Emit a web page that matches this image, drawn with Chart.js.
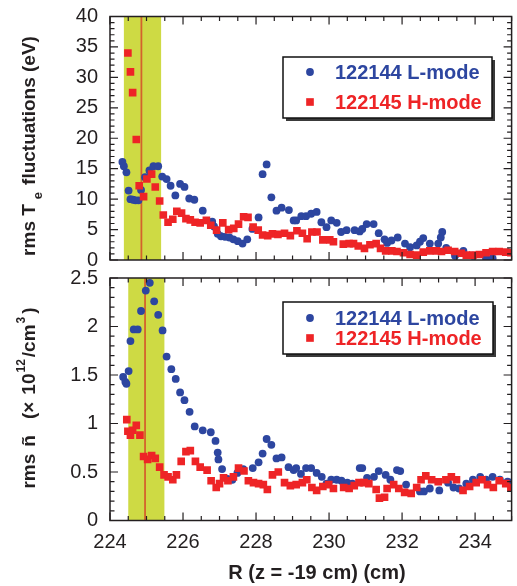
<!DOCTYPE html>
<html>
<head>
<meta charset="utf-8">
<script src="https://cdn.jsdelivr.net/npm/chart.js@4.4.1/dist/chart.umd.min.js"></script>
<style>
  html, body { margin: 0; padding: 0; background: #fff; }
  #wrap { position: relative; width: 517px; height: 586px; }
  #wrap canvas { position: absolute; left: 0; }
</style>
</head>
<body>
<div id="wrap">
  <canvas id="teChart" width="517" height="272" style="top:0"></canvas>
  <canvas id="nChart" width="517" height="320" style="top:266px"></canvas>
</div>
<script>
// --- data ---
const seriesLabels = ['122144 L-mode', '122145 H-mode'];
const xTicks = [224, 226, 228, 230, 232, 234];
const teYTicks = [0, 5, 10, 15, 20, 25, 30, 35, 40];
const nYTicks = [0, 0.5, 1, 1.5, 2, 2.5];

// top panel: rms Te fluctuations (eV)
const teLmodeR = [224.34, 224.38, 224.45, 224.51, 224.56, 224.63, 224.70, 224.78, 224.85, 224.96, 225.08, 225.19, 225.32, 225.43, 225.55, 225.66, 225.79, 225.92, 226.04, 226.17, 226.31, 226.54, 226.80, 226.85, 226.95, 227.04, 227.15, 227.27, 227.38, 227.50, 227.63, 227.76, 227.90, 228.07, 228.18, 228.29, 228.42, 228.56, 228.70, 228.90, 229.03, 229.10, 229.24, 229.37, 229.51, 229.66, 229.79, 229.93, 230.06, 230.21, 230.33, 230.48, 230.70, 230.84, 230.91, 231.03, 231.22, 231.36, 231.52, 231.59, 231.71, 231.88, 232.08, 232.22, 232.40, 232.49, 232.58, 232.76, 232.99, 233.06, 233.10, 233.21, 233.45, 233.68, 233.94, 234.30, 234.48];
const teLmodeVal = [16.1, 15.4, 14.4, 11.4, 10.0, 9.9, 9.8, 9.8, 11.5, 13.6, 14.7, 15.4, 15.4, 13.7, 13.3, 12.2, 10.6, 12.5, 12.0, 10.1, 9.9, 8.1, 6.3, 5.5, 4.3, 3.9, 3.8, 3.7, 3.4, 3.1, 2.7, 3.4, 5.1, 7.0, 14.1, 15.7, 10.3, 8.1, 8.6, 8.2, 6.5, 6.5, 7.2, 7.2, 7.6, 7.9, 6.2, 5.4, 6.5, 6.1, 4.6, 4.9, 4.9, 4.7, 5.1, 5.9, 5.9, 4.4, 3.4, 2.8, 3.2, 3.7, 2.7, 2.1, 2.4, 3.0, 3.6, 2.7, 2.7, 3.7, 4.6, 2.0, 0.7, 1.5, 0.7, 0.3, 0.3];
const teHmodeR = [224.49, 224.56, 224.62, 224.72, 224.80, 224.92, 225.01, 225.14, 225.24, 225.36, 225.46, 225.59, 225.72, 225.83, 225.96, 226.08, 226.20, 226.33, 226.47, 226.64, 226.76, 226.92, 227.09, 227.25, 227.39, 227.52, 227.66, 227.78, 227.92, 228.06, 228.18, 228.32, 228.45, 228.60, 228.78, 228.94, 229.12, 229.27, 229.40, 229.53, 229.67, 229.83, 230.02, 230.12, 230.39, 230.55, 230.67, 230.80, 230.97, 231.12, 231.29, 231.41, 231.55, 231.72, 231.86, 232.04, 232.22, 232.40, 232.58, 232.76, 232.94, 233.08, 233.26, 233.44, 233.62, 233.76, 233.94, 234.12, 234.30, 234.48, 234.66, 234.84, 234.98];
const teHmodeVal = [34.0, 30.9, 27.5, 19.8, 12.2, 10.4, 13.3, 14.1, 12.0, 9.7, 7.4, 6.2, 6.7, 8.0, 7.7, 6.8, 6.6, 6.2, 6.1, 6.5, 5.7, 4.9, 6.1, 5.0, 5.2, 5.9, 7.1, 7.0, 5.4, 4.9, 4.1, 4.0, 4.3, 4.2, 4.4, 4.0, 4.8, 4.4, 3.5, 4.6, 4.6, 3.3, 3.3, 3.0, 2.6, 2.7, 2.7, 2.3, 1.9, 2.5, 2.7, 1.9, 1.5, 1.5, 1.4, 1.2, 0.9, 0.8, 1.3, 1.5, 1.5, 1.4, 1.6, 1.4, 1.1, 0.8, 0.8, 0.9, 1.2, 1.4, 1.4, 1.3, 1.2];

// bottom panel: rms density fluctuations (10^12/cm^3)
const nLmodeR = [224.36, 224.42, 224.45, 224.51, 224.56, 224.65, 224.76, 224.85, 224.98, 225.09, 225.21, 225.32, 225.44, 225.55, 225.68, 225.80, 225.92, 226.04, 226.18, 226.32, 226.54, 226.76, 226.89, 226.95, 226.97, 227.07, 227.22, 227.35, 227.49, 227.65, 227.91, 228.07, 228.18, 228.29, 228.42, 228.56, 228.70, 228.89, 229.03, 229.10, 229.23, 229.37, 229.51, 229.66, 229.80, 229.93, 230.06, 230.21, 230.34, 230.50, 230.64, 230.84, 230.91, 231.04, 231.23, 231.36, 231.55, 231.68, 231.86, 231.95, 232.11, 232.49, 232.60, 232.76, 233.02, 233.26, 233.41, 233.56, 233.76, 233.94, 234.14, 234.30, 234.48, 234.68, 234.89, 234.98];
const nLmodeVal = [1.48, 1.43, 1.41, 1.54, 1.85, 1.97, 1.97, 2.16, 2.37, 2.45, 2.26, 2.12, 1.96, 1.69, 1.56, 1.46, 1.32, 1.24, 1.12, 0.97, 0.93, 0.91, 0.82, 0.70, 0.63, 0.53, 0.43, 0.42, 0.49, 0.53, 0.54, 0.60, 0.69, 0.84, 0.78, 0.64, 0.65, 0.55, 0.52, 0.54, 0.48, 0.54, 0.54, 0.49, 0.45, 0.38, 0.42, 0.42, 0.41, 0.39, 0.38, 0.54, 0.54, 0.44, 0.45, 0.51, 0.47, 0.42, 0.52, 0.51, 0.37, 0.30, 0.30, 0.33, 0.31, 0.39, 0.34, 0.33, 0.38, 0.42, 0.45, 0.42, 0.45, 0.42, 0.40, 0.39];
const nHmodeR = [224.46, 224.49, 224.56, 224.62, 224.72, 224.82, 224.92, 225.03, 225.14, 225.24, 225.36, 225.48, 225.59, 225.72, 225.82, 225.95, 226.08, 226.20, 226.34, 226.47, 226.66, 226.77, 226.91, 227.00, 227.11, 227.23, 227.38, 227.52, 227.67, 227.79, 227.93, 228.07, 228.20, 228.31, 228.45, 228.61, 228.78, 228.94, 229.10, 229.27, 229.39, 229.53, 229.66, 229.83, 229.99, 230.12, 230.40, 230.55, 230.69, 230.82, 230.96, 231.09, 231.29, 231.38, 231.52, 231.59, 231.77, 231.91, 232.07, 232.25, 232.40, 232.52, 232.65, 232.81, 232.99, 233.20, 233.35, 233.49, 233.67, 233.85, 234.03, 234.19, 234.34, 234.50, 234.66, 234.84, 234.98];
const nHmodeVal = [1.04, 0.92, 0.88, 0.93, 0.98, 0.88, 0.66, 0.63, 0.67, 0.64, 0.55, 0.47, 0.45, 0.42, 0.47, 0.61, 0.71, 0.72, 0.61, 0.55, 0.52, 0.41, 0.34, 0.38, 0.44, 0.41, 0.45, 0.54, 0.51, 0.41, 0.39, 0.38, 0.37, 0.32, 0.47, 0.50, 0.39, 0.36, 0.37, 0.39, 0.42, 0.34, 0.31, 0.35, 0.37, 0.33, 0.34, 0.33, 0.36, 0.39, 0.39, 0.38, 0.32, 0.23, 0.24, 0.33, 0.37, 0.33, 0.29, 0.28, 0.34, 0.42, 0.46, 0.42, 0.40, 0.42, 0.45, 0.42, 0.31, 0.35, 0.39, 0.42, 0.37, 0.34, 0.41, 0.38, 0.34];

// shaded region and marker line (R, cm)
const teBand = [224.38, 225.40];
const teMarkR = 224.86;
const nBand = [224.50, 225.49];
const nMarkR = 224.96;

const X_MIN = 224, X_MAX = 235;
const FONT = '"Liberation Sans", Arial, Helvetica, sans-serif';
const BLUE = '#2D46A0';
const RED = '#EE2426';
const BAND = '#CEDA44';
const MARK = '#D4622C';
const INK = '#231F20';

const toPoints = (xs, ys) => xs.map((x, i) => ({ x: x, y: ys[i] }));

// draws a rotated label made of pieces (for sub/superscripts)
function drawRotatedLabel(ctx, cx, cy, parts) {
  ctx.save();
  ctx.translate(cx, cy);
  ctx.rotate(-Math.PI / 2);
  ctx.fillStyle = INK;
  ctx.textBaseline = 'middle';
  let total = 0;
  parts.forEach(p => {
    ctx.font = 'bold ' + p.size + 'px ' + FONT;
    p.w = ctx.measureText(p.text).width + (p.gap || 0);
    total += p.w;
  });
  let pos = -total / 2;
  parts.forEach(p => {
    ctx.font = 'bold ' + p.size + 'px ' + FONT;
    ctx.fillText(p.text, pos, p.dy || 0);
    pos += p.w;
  });
  ctx.restore();
}

const panelDecor = {
  id: 'panelDecor',
  beforeDatasetsDraw(chart, args, opts) {
    const { ctx, chartArea: a, scales: { x } } = chart;
    const b0 = x.getPixelForValue(opts.band[0]);
    const b1 = x.getPixelForValue(opts.band[1]);
    ctx.save();
    ctx.fillStyle = BAND;
    ctx.fillRect(b0, a.top, b1 - b0, a.bottom - a.top);
    const lx = x.getPixelForValue(opts.mark);
    ctx.strokeStyle = MARK;
    ctx.lineWidth = 1.8;
    ctx.beginPath();
    ctx.moveTo(lx, a.top);
    ctx.lineTo(lx, a.bottom);
    ctx.stroke();
    ctx.restore();
  },
  afterDraw(chart, args, opts) {
    const { ctx, chartArea: a, scales: { x, y } } = chart;
    ctx.save();
    // frame
    ctx.strokeStyle = INK;
    ctx.lineWidth = 1.5;
    ctx.strokeRect(a.left, a.top, a.right - a.left, a.bottom - a.top);

    // inward ticks, x every 0.5, long every 2
    ctx.lineWidth = 1.2;
    ctx.beginPath();
    for (let i = 0; i <= (X_MAX - X_MIN) * 2; i++) {
      const v = X_MIN + i * 0.5;
      const len = (i % 4 === 0) ? 8 : 4.5;
      const px = x.getPixelForValue(v);
      ctx.moveTo(px, a.bottom); ctx.lineTo(px, a.bottom - len);
      ctx.moveTo(px, a.top); ctx.lineTo(px, a.top + len);
    }
    const n = Math.round((y.max - y.min) / opts.yMinor);
    for (let i = 0; i <= n; i++) {
      const v = y.min + i * opts.yMinor;
      const len = (i % opts.yMajorEvery === 0) ? 8 : 4.5;
      const py = y.getPixelForValue(v);
      ctx.moveTo(a.left, py); ctx.lineTo(a.left + len, py);
      ctx.moveTo(a.right, py); ctx.lineTo(a.right - len, py);
    }
    ctx.stroke();

    // legend box with drop shadow
    const L = opts.legend;
    ctx.fillStyle = '#3a3a3a';
    ctx.fillRect(L.x + 3, L.y + 3, L.w, L.h);
    ctx.fillStyle = '#fff';
    ctx.fillRect(L.x, L.y, L.w, L.h);
    ctx.strokeStyle = '#111';
    ctx.lineWidth = 1.5;
    ctx.strokeRect(L.x, L.y, L.w, L.h);
    ctx.font = 'bold 20px ' + FONT;
    ctx.textBaseline = 'middle';
    chart.data.datasets.forEach((ds, i) => {
      const ry = L.rows[i];
      ctx.fillStyle = ds.backgroundColor;
      if (ds.pointStyle === 'circle') {
        ctx.beginPath();
        ctx.arc(L.x + 27, ry, ds.pointRadius, 0, Math.PI * 2);
        ctx.fill();
      } else {
        const s = ds.pointRadius * Math.SQRT1_2;
        ctx.fillRect(L.x + 27 - s, ry - s, 2 * s, 2 * s);
      }
      ctx.fillText(ds.label, L.x + 52, ry + 1);
    });
    ctx.restore();

    // axis titles
    drawRotatedLabel(ctx, 30, opts.titleY, opts.yTitle);
    if (opts.xTitle) {
      ctx.save();
      ctx.fillStyle = INK;
      ctx.font = 'bold 20px ' + FONT;
      ctx.textAlign = 'center';
      ctx.textBaseline = 'middle';
      ctx.fillText(opts.xTitle, opts.xTitlePos[0], opts.xTitlePos[1]);
      ctx.restore();
    }
  }
};

function makeDatasets(lR, lV, hR, hV) {
  return [
    { label: seriesLabels[0], data: toPoints(lR, lV), pointStyle: 'circle', pointRadius: 3.9,
      backgroundColor: BLUE, borderWidth: 0, order: 2 },
    { label: seriesLabels[1], data: toPoints(hR, hV), pointStyle: 'rect', pointRadius: 5.4,
      backgroundColor: RED, borderWidth: 0, order: 1 }
  ];
}

const tickFont = { family: FONT, size: 20 };

// label offset comes from the (hidden) tick length so it does not pad the chart area
function yScale(min, max, ticks) {
  return {
    type: 'linear', min: min, max: max,
    afterBuildTicks: s => { s.ticks = ticks.map(v => ({ value: v })); },
    afterFit: s => { s.width = 110; },
    grid: { display: false, drawTicks: true, tickLength: 12 },
    border: { display: false },
    ticks: { padding: 0, font: tickFont, color: INK, callback: v => String(v) }
  };
}

Chart.defaults.animation = false;

// top panel
new Chart(document.getElementById('teChart'), {
  type: 'scatter',
  data: { datasets: makeDatasets(teLmodeR, teLmodeVal, teHmodeR, teHmodeVal) },
  options: {
    responsive: false,
    layout: { padding: { top: 16.5, right: 1, bottom: 12, left: 0 } },
    scales: {
      x: { type: 'linear', min: X_MIN, max: X_MAX, display: false, afterFit: s => { s.height = 0; } },
      y: yScale(0, 40, teYTicks)
    },
    plugins: {
      legend: { display: false },
      tooltip: { enabled: false },
      panelDecor: {
        band: teBand, mark: teMarkR, yMinor: 1, yMajorEvery: 5,
        legend: { x: 283, y: 57, w: 209, h: 61, rows: [72, 102] },
        titleY: 146,
        yTitle: [
          { text: 'rms T', size: 19, gap: 5 },
          { text: 'e', size: 13, dy: 8, gap: 7 },
          { text: 'fluctuations (eV)', size: 19 }
        ]
      }
    }
  },
  plugins: [panelDecor]
});

// bottom panel
new Chart(document.getElementById('nChart'), {
  type: 'scatter',
  data: { datasets: makeDatasets(nLmodeR, nLmodeVal, nHmodeR, nHmodeVal) },
  options: {
    responsive: false,
    layout: { padding: { top: 12, right: 1, bottom: 0, left: 0 } },
    scales: {
      x: {
        type: 'linear', min: X_MIN, max: X_MAX,
        afterBuildTicks: s => { s.ticks = xTicks.map(v => ({ value: v })); },
        afterFit: s => { s.height = 65.5; },
        grid: { display: false, drawTicks: false },
        border: { display: false },
        ticks: { padding: 10, font: tickFont, color: INK, maxRotation: 0, autoSkip: false, callback: v => String(v) }
      },
      y: yScale(0, 2.5, nYTicks)
    },
    plugins: {
      legend: { display: false },
      tooltip: { enabled: false },
      panelDecor: {
        band: nBand, mark: nMarkR, yMinor: 0.1, yMajorEvery: 5,
        legend: { x: 283, y: 36, w: 210, h: 52, rows: [52, 72] },
        titleY: 132,
        yTitle: [
          { text: 'rms', size: 19, gap: 7 },
          { text: 'ñ', size: 19, gap: 16 },
          { text: '(×', size: 19, gap: 7 },
          { text: '10', size: 19, gap: 1 },
          { text: '12', size: 12, dy: -8, gap: 2 },
          { text: '/cm', size: 19, gap: 1 },
          { text: '3', size: 12, dy: -8, gap: 3 },
          { text: ')', size: 19 }
        ],
        xTitle: 'R (z = -19 cm) (cm)',
        xTitlePos: [317, 307]
      }
    }
  },
  plugins: [panelDecor]
});
</script>
</body>
</html>
